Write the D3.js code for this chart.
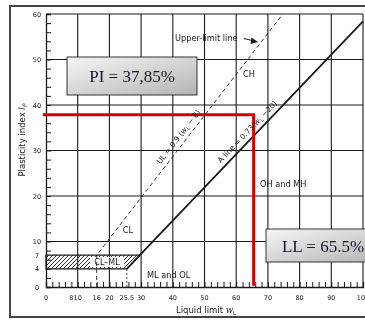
<!DOCTYPE html>
<html>
<head>
<meta charset="utf-8">
<script src="https://cdn.jsdelivr.net/npm/d3@7"></script>
<style>
  html, body { margin: 0; padding: 0; background: #fff; }
  svg { display: block; }
</style>
</head>
<body>
<svg id="chart" width="365" height="320"></svg>
<script>
// Plasticity chart: liquid limit (x) vs plasticity index (y)
const llTicks = [0, 8, 10, 16, 20, 25.5, 30, 40, 50, 60, 70, 80, 90, 100];
const llTickText = ["0", "8", "10", "16", "20", "25.5", "30", "40", "50", "60", "70", "80", "90", "100"];
const piTicks = [0, 4, 7, 10, 20, 30, 40, 50, 60];
const gridLL = [10, 20, 30, 40, 50, 60, 70, 80, 90, 100];
const gridPI = [10, 20, 30, 40, 50, 60];

// A-line (solid) and upper-limit line (dashed), as vertices [LL, PI]
const aLine = [[25.5, 4], [29.6, 7], [100, 58.4]];
const uLine = [[16, 0], [16, 7], [74.7, 60]];
// CL-ML band between PI = 4 and PI = 7
const clmlZone = [[0, 4], [25.5, 4], [29.6, 7], [0, 7]];
// Sample result
const sampleLL = 65.5;
const samplePI = 37.85;

const svg = d3.select("#chart");
const x = d3.scaleLinear().domain([0, 100]).range([46, 363]);
const y = d3.scaleLinear().domain([0, 60]).range([287, 14]);
const line = d3.line().x(d => x(d[0])).y(d => y(d[1]));

const ink = "#1a1a1a";
const sans = "'DejaVu Sans', Verdana, sans-serif";

// Outer frame
svg.append("rect").attr("x", 10).attr("y", 6).attr("width", 370).attr("height", 311)
  .attr("fill", "none").attr("stroke", "#444").attr("stroke-width", 2);

const defs = svg.append("defs");
const hatch = defs.append("pattern").attr("id", "hatch")
  .attr("patternUnits", "userSpaceOnUse").attr("width", 4).attr("height", 4);
hatch.append("path").attr("d", "M-1,1 l2,-2 M0,4 l4,-4 M3,5 l2,-2")
  .attr("stroke", ink).attr("stroke-width", 0.9);

const grad = defs.append("linearGradient").attr("id", "boxfill")
  .attr("x1", "0").attr("y1", "0").attr("x2", "1").attr("y2", "1");
grad.append("stop").attr("offset", "0%").attr("stop-color", "#f6f6f6");
grad.append("stop").attr("offset", "100%").attr("stop-color", "#b4b4b4");

// Soft edge for the printed lettering
defs.append("filter").attr("id", "soft")
  .append("feGaussianBlur").attr("stdDeviation", 0.25);

// Grid
const g = svg.append("g");
g.selectAll(".gv").data(gridLL).join("line")
  .attr("x1", d => x(d)).attr("x2", d => x(d)).attr("y1", y(0)).attr("y2", y(60))
  .attr("stroke", ink).attr("stroke-width", 1.1);
g.selectAll(".gh").data(gridPI).join("line")
  .attr("x1", x(0)).attr("x2", x(100)).attr("y1", d => y(d)).attr("y2", d => y(d))
  .attr("stroke", ink).attr("stroke-width", 1.1);

// Axes with inward minor ticks every 2 units
const xAxis = d3.axisTop(x).tickValues(d3.range(0, 101, 2)).tickSize(5).tickFormat("");
svg.append("g").attr("transform", `translate(0,${y(0)})`).call(xAxis)
  .call(s => s.select(".domain").attr("stroke", ink).attr("stroke-width", 1.3))
  .call(s => s.selectAll(".tick line").attr("stroke", ink).attr("stroke-width", 1));
const yAxis = d3.axisRight(y).tickValues(d3.range(0, 61, 2)).tickSize(5).tickFormat("");
svg.append("g").attr("transform", `translate(${x(0)},0)`).call(yAxis)
  .call(s => s.select(".domain").attr("stroke", ink).attr("stroke-width", 1.3))
  .call(s => s.selectAll(".tick line").attr("stroke", ink).attr("stroke-width", 1));

// CL-ML hatched band
svg.append("path").datum(clmlZone).attr("d", d => line(d) + "Z")
  .attr("fill", "url(#hatch)").attr("stroke", ink).attr("stroke-width", 1.2);
svg.append("rect").attr("x", 90).attr("y", y(6.6)).attr("width", 34).attr("height", y(4.4) - y(6.6))
  .attr("fill", "#fff");

// Dotted drop at LL = 25.5
svg.append("line").attr("x1", x(25.5)).attr("x2", x(25.5)).attr("y1", y(0)).attr("y2", y(4))
  .attr("stroke", ink).attr("stroke-width", 0.8).attr("stroke-dasharray", "2,2");

// Upper-limit line (dashed)
svg.append("path").datum(uLine).attr("d", line)
  .attr("fill", "none").attr("stroke", ink).attr("stroke-width", 0.9).attr("stroke-dasharray", "4,3");

// A-line (solid)
svg.append("path").datum(aLine).attr("d", line)
  .attr("fill", "none").attr("stroke", ink).attr("stroke-width", 1.8);

// Pointer to the upper-limit line
svg.append("path").attr("d", "M244,38.5 L256,41.5")
  .attr("stroke", ink).attr("stroke-width", 1).attr("fill", "none");
svg.append("path").attr("d", "M258,42 L251.5,37.5 L250.5,44 Z").attr("fill", ink);

// Sample result in red
svg.append("path").datum([[-1, samplePI], [sampleLL, samplePI], [sampleLL, 0.3]])
  .attr("d", line).attr("fill", "none").attr("stroke", "#d40000").attr("stroke-width", 3);

// Value box backgrounds
const boxes = [
  {x: 67, y: 57, w: 130, h: 38, text: "PI = " + String(samplePI).replace(".", ",") + "%"},
  {x: 266, y: 229, w: 114, h: 33, text: "LL = " + sampleLL + "%"}
];
svg.selectAll(".vbox").data(boxes).join("rect")
  .attr("x", d => d.x).attr("y", d => d.y).attr("width", d => d.w).attr("height", d => d.h)
  .attr("fill", "url(#boxfill)").attr("stroke", "#333").attr("stroke-width", 1);

// All text sits in one layer on top
const labels = svg.append("g").attr("filter", "url(#soft)");

labels.append("g").selectAll("text").data(llTicks).join("text")
  .attr("x", d => x(d)).attr("y", 300)
  .attr("text-anchor", "middle").attr("font-family", sans).attr("font-size", 6.5)
  .attr("fill", ink).text((d, i) => llTickText[i]);
labels.append("g").selectAll("text").data(piTicks).join("text")
  .attr("x", 37).attr("y", d => y(d) + 2.5)
  .attr("text-anchor", "middle").attr("font-family", sans).attr("font-size", 6.5)
  .attr("fill", ink).text(d => d);

labels.append("text").attr("x", 107).attr("y", y(5.5) + 3).attr("text-anchor", "middle")
  .attr("font-family", sans).attr("font-size", 8).attr("fill", ink).text("CL–ML");

// Rotated labels along the lines
function lineLabel(p0, p1, atPI, offset, parts) {
  const dx = x(p1[0]) - x(p0[0]), dy = y(p1[1]) - y(p0[1]);
  const len = Math.hypot(dx, dy), ux = dx / len, uy = dy / len;
  const ll = p0[0] + (atPI - p0[1]) * (p1[0] - p0[0]) / (p1[1] - p0[1]);
  const cx = x(ll) + uy * offset, cy = y(atPI) - ux * offset;
  const ang = Math.atan2(dy, dx) * 180 / Math.PI;
  const t = labels.append("text").attr("transform", `translate(${cx},${cy}) rotate(${ang})`)
    .attr("text-anchor", "middle").attr("dy", "0.35em")
    .attr("font-family", sans).attr("font-size", 7.5).attr("fill", ink);
  parts.forEach(p => {
    const s = t.append("tspan").text(p.t);
    if (p.i) s.attr("font-style", "italic");
    if (p.sub) s.attr("font-size", 5.5).attr("dy", 1.5);
    if (p.up) s.attr("dy", -1.5);
  });
}
lineLabel(uLine[1], uLine[2], 32, 7.5,
  [{t: "UL = 0.9 ("}, {t: "w", i: true}, {t: "L", sub: true}, {t: " − 8)", up: true}]);
lineLabel(aLine[1], aLine[2], 33, 7.5,
  [{t: "A line = 0.73("}, {t: "w", i: true}, {t: "L", sub: true}, {t: " −20)", up: true}]);

// Region labels
const lab = (tx, px, py, anchor) => labels.append("text").attr("x", px).attr("y", py)
  .attr("text-anchor", anchor || "start").attr("font-family", sans).attr("font-size", 8.2)
  .attr("fill", ink).text(tx);
lab("Upper-limit line", 175, 41);
lab("CH", 243, 76.5);
lab("CL", 128, 233, "middle");
lab("ML and OL", 147, 278);
lab("OH and MH", 260, 186.5);

// Axis titles
const yt = labels.append("text").attr("transform", "translate(25,140) rotate(-90)")
  .attr("text-anchor", "middle").attr("font-family", sans).attr("font-size", 8.5).attr("fill", ink);
yt.append("tspan").text("Plasticity index  ");
yt.append("tspan").attr("font-style", "italic").text("I");
yt.append("tspan").attr("font-style", "italic").attr("font-size", 6).attr("dy", 1.5).text("P");

const xt = labels.append("text").attr("x", 206).attr("y", 313)
  .attr("text-anchor", "middle").attr("font-family", sans).attr("font-size", 8.5).attr("fill", ink);
xt.append("tspan").text("Liquid limit ");
xt.append("tspan").attr("font-family", "'DejaVu Serif', serif").attr("font-style", "italic").text("w");
xt.append("tspan").attr("font-size", 5.5).attr("dy", 1.5).text("L");

// Value box texts
labels.selectAll(".vtext").data(boxes).join("text")
  .attr("x", d => d.x + d.w / 2).attr("y", d => d.y + d.h / 2 + 6)
  .attr("text-anchor", "middle").attr("font-family", "'Liberation Serif', 'Times New Roman', serif")
  .attr("font-size", 17).attr("fill", "#16162a").text(d => d.text);
</script>
</body>
</html>
